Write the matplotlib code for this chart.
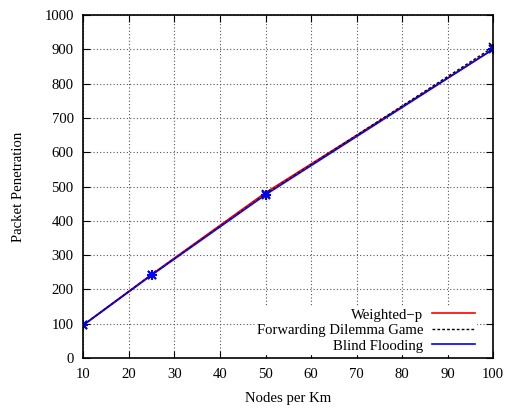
import matplotlib.pyplot as plt
import numpy as np

plt.rcParams['font.family'] = ['Liberation Serif', 'DejaVu Serif']

nodes = [10, 25, 50, 100]
weighted_p = [97, 244, 482, 900]
fdg = [97, 243, 478, 906]
blind = [96, 242, 476, 900]

xticks = [10, 20, 30, 40, 50, 60, 70, 80, 90, 100]
yticks = [0, 100, 200, 300, 400, 500, 600, 700, 800, 900, 1000]

fig = plt.figure(figsize=(5.05, 4.09), dpi=100)
ax = fig.add_axes([0.1653, 0.1247, 0.811, 0.8386])

ax.plot(nodes, weighted_p, color='red', lw=1.2, label='Weighted\u2212p')
ax.plot(nodes, fdg, color='black', lw=1.0, ls=(0, (2, 1.5)), label='Forwarding Dilemma Game')
ax.plot(nodes, blind, color='blue', lw=1.2, label='Blind Flooding')
ax.plot(nodes, fdg, ls='none', marker='x', ms=6, mew=1.2, color='black')
ax.plot(nodes, blind, ls='none', marker='x', ms=6, mew=1.5, color='blue')
ax.plot(nodes, blind, ls='none', marker='+', ms=7, mew=1.5, color='blue')

ax.set_xlim(10, 100)
ax.set_ylim(0, 1000)
ax.set_xticks(xticks)
ax.set_yticks(yticks)
ax.tick_params(direction='in', top=True, right=True, length=5, labelsize=10.6, pad=7)
ax.grid(True, color='#555555', ls=(0, (1, 2)), lw=0.8)
for s in ax.spines.values():
    s.set_linewidth(1.2)

ax.set_xlabel('Nodes per Km', fontsize=10.6, labelpad=8)
ax.set_ylabel('Packet Penetration', fontsize=10.6, labelpad=14)

leg = ax.legend(loc='lower right', markerfirst=False, fontsize=10.6, frameon=True,
                fancybox=False, edgecolor='white', framealpha=1, handlelength=2.9,
                labelspacing=0.15, borderpad=0.1, handletextpad=0.6,
                bbox_to_anchor=(0.977, -0.01))
leg.set_zorder(2.2)
for t in leg.get_texts():
    t.set_ha('right')

plt.savefig('out.png')
